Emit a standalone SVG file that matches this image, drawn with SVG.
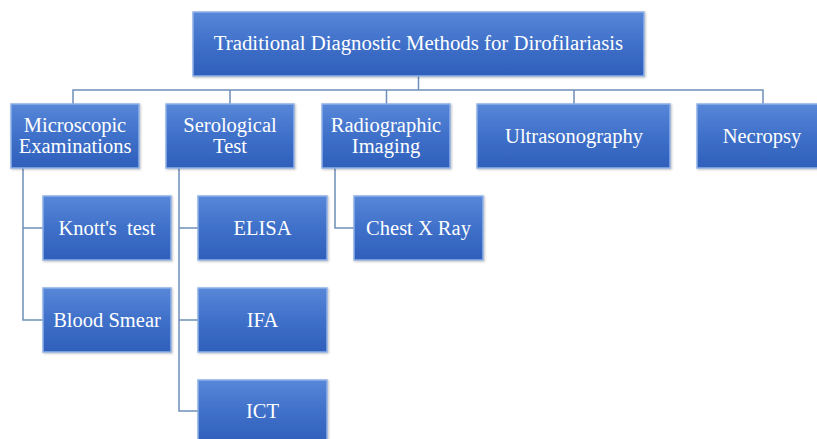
<svg xmlns="http://www.w3.org/2000/svg" width="817" height="439" viewBox="0 0 817 439">
<defs>
<linearGradient id="g" x1="0" y1="0" x2="0" y2="1">
<stop offset="0" stop-color="#5787d8"/>
<stop offset="0.5" stop-color="#3f70c9"/>
<stop offset="1" stop-color="#2e5fbb"/>
</linearGradient>
<filter id="sh" x="-5%" y="-5%" width="110%" height="115%">
<feDropShadow dx="1" dy="1" stdDeviation="0.8" flood-color="#000" flood-opacity="0.25"/>
</filter>
</defs>
<style>
.box{fill:url(#g);stroke:#8fb0e6;stroke-width:1.5;filter:url(#sh)}
.c{fill:none;stroke:#6d8fb8;stroke-width:1.5}
</style>
<rect width="817" height="439" fill="#fff"/>
<g id="connectors">
<path class="c" d="M418.5 76V90M73 104V90H763V104M230 90V104M386.5 90V104M574 90V104"/>
<path class="c" d="M23 168V320H43M23 228H43"/>
<path class="c" d="M179 168V411H198M179 228H198M179 320H198"/>
<path class="c" d="M335 168V228H354"/>
</g>
<g id="root"><rect class="box" x="193" y="12" width="451" height="64"/><text x="418.5" y="50" font-family="Liberation Serif" font-size="20.8" fill="#fff" text-anchor="middle">Traditional Diagnostic Methods for Dirofilariasis</text></g>
<g id="microscopic"><rect class="box" x="11" y="104" width="128" height="64"/><text x="75" y="132" font-family="Liberation Serif" font-size="20.5" fill="#fff" text-anchor="middle">Microscopic</text><text x="75" y="153" font-family="Liberation Serif" font-size="20.5" fill="#fff" text-anchor="middle">Examinations</text></g>
<g id="serological"><rect class="box" x="166" y="104" width="128" height="64"/><text x="230" y="132" font-family="Liberation Serif" font-size="20.5" fill="#fff" text-anchor="middle">Serological</text><text x="230" y="153" font-family="Liberation Serif" font-size="20.5" fill="#fff" text-anchor="middle">Test</text></g>
<g id="radiographic"><rect class="box" x="322" y="104" width="128" height="64"/><text x="386" y="132" font-family="Liberation Serif" font-size="20.5" fill="#fff" text-anchor="middle">Radiographic</text><text x="386" y="153" font-family="Liberation Serif" font-size="20.5" fill="#fff" text-anchor="middle">Imaging</text></g>
<g id="ultrasonography"><rect class="box" x="477" y="104" width="193" height="64"/><text x="574" y="143" font-family="Liberation Serif" font-size="20.5" fill="#fff" text-anchor="middle">Ultrasonography</text></g>
<g id="necropsy"><rect class="box" x="697" y="104" width="130" height="64"/><text x="762" y="143" font-family="Liberation Serif" font-size="20.5" fill="#fff" text-anchor="middle">Necropsy</text></g>
<g id="knotts"><rect class="box" x="43" y="196" width="128" height="64"/><text x="107" y="235" font-family="Liberation Serif" font-size="20.5" fill="#fff" text-anchor="middle" xml:space="preserve">Knott's  test</text></g>
<g id="bloodsmear"><rect class="box" x="43" y="288" width="128" height="64"/><text x="107" y="327" font-family="Liberation Serif" font-size="20.5" fill="#fff" text-anchor="middle">Blood Smear</text></g>
<g id="elisa"><rect class="box" x="198" y="196" width="129" height="64"/><text x="262.5" y="235" font-family="Liberation Serif" font-size="20.5" fill="#fff" text-anchor="middle">ELISA</text></g>
<g id="ifa"><rect class="box" x="198" y="288" width="129" height="64"/><text x="262.5" y="327" font-family="Liberation Serif" font-size="20.5" fill="#fff" text-anchor="middle">IFA</text></g>
<g id="ict"><rect class="box" x="198" y="380" width="129" height="64"/><text x="262.5" y="418" font-family="Liberation Serif" font-size="20.5" fill="#fff" text-anchor="middle">ICT</text></g>
<g id="chestxray"><rect class="box" x="354" y="196" width="129" height="64"/><text x="418.5" y="235" font-family="Liberation Serif" font-size="20.5" fill="#fff" text-anchor="middle">Chest X Ray</text></g>
</svg>
